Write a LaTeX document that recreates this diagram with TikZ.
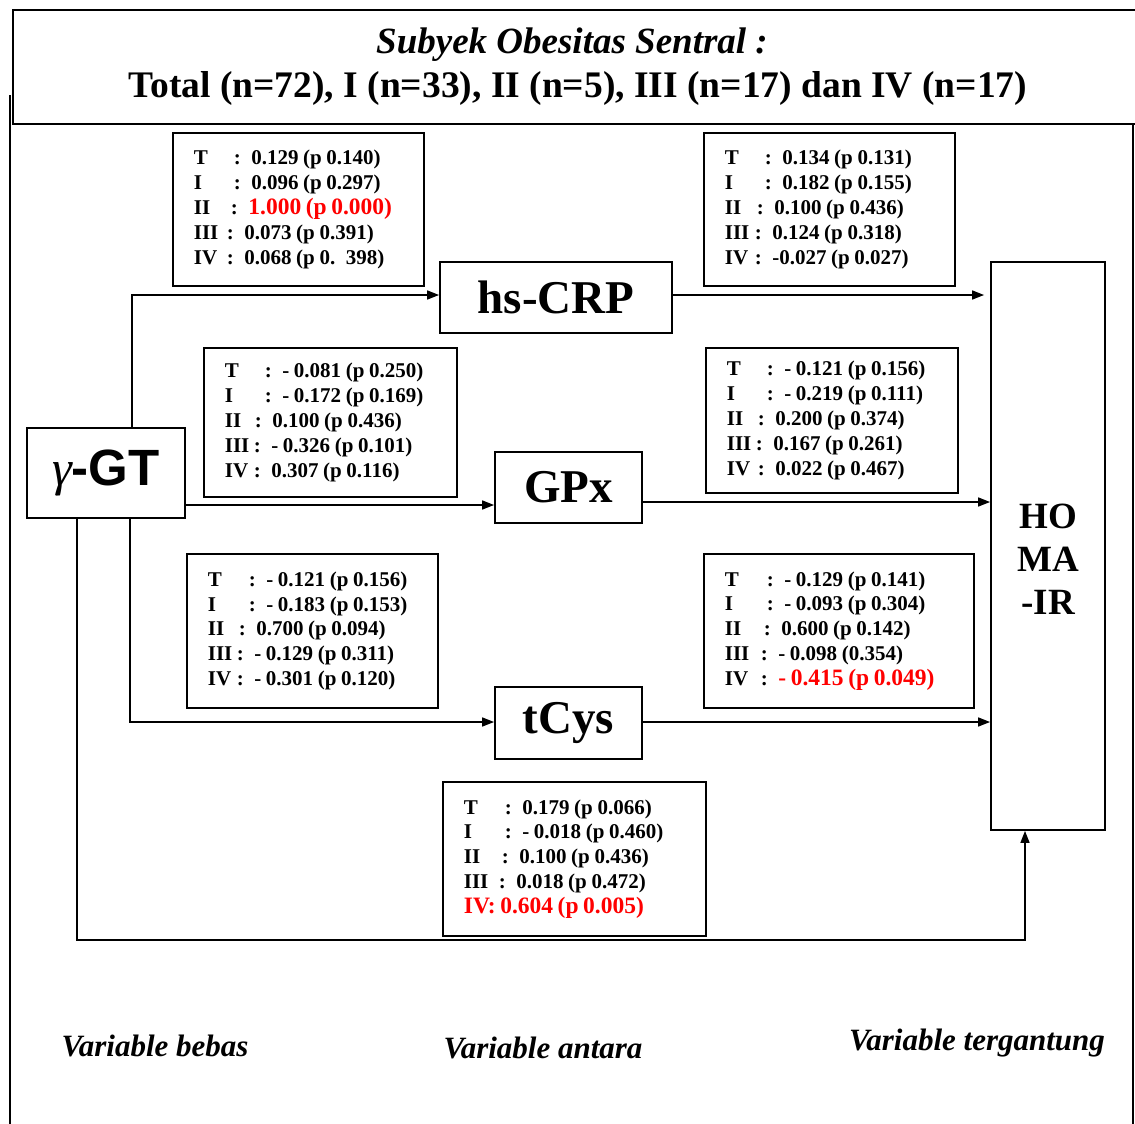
\documentclass[tikz,border=0pt]{standalone}
\usepackage{fontspec}
\setmainfont{Liberation Serif}
\newfontfamily\arialfont{Liberation Sans}
\usetikzlibrary{arrows.meta}
\newcommand{\lr}[3]{\makebox[#1pt][l]{#2}#3}
\begin{document}
\begin{tikzpicture}[x=1pt,y=-1pt,
  tbl/.style={draw, line width=1.8pt, anchor=north west, inner xsep=21pt, inner ysep=0pt, align=left,
    font=\fontsize{21}{24.8}\selectfont\bfseries, execute at begin node={\spaceskip=4.6pt plus 1pt minus 1pt\relax}},
  mainbox/.style={draw, line width=1.8pt, inner sep=0pt, font=\fontsize{47}{50}\selectfont\bfseries},
  arr/.style={line width=1.5pt, -{Triangle[length=12pt,width=9pt]}},
  frame/.style={line width=1.8pt},
  lbl/.style={font=\fontsize{31}{34}\selectfont\bfseries\itshape}]
\useasboundingbox (0,0) rectangle (1135,1124);
% title box and frame
\node[draw, frame, anchor=north west, minimum width=1140pt, minimum height=114pt, inner sep=0pt] (title) at (12,9) {};
\node[font=\fontsize{37}{40}\selectfont\bfseries\itshape] (t1) at (572,45) {Subyek Obesitas Sentral :};
\node[font=\fontsize{37.5}{40}\selectfont\bfseries] (t2) at (578,88) {Total (n=72), I (n=33), II (n=5), III (n=17) dan IV (n=17)};
\draw[frame] (10,95) -- (10,1124);
\draw[frame] (1133,123) -- (1133,1124);
% main nodes
\node[mainbox, minimum width=232pt, minimum height=71pt] (crp) at (556,297.5) {hs-CRP};
\node[mainbox, minimum width=147pt, minimum height=71pt] (gpx) at (568.5,487.5) {GPx};
\node[mainbox, minimum width=147pt, minimum height=72pt] (tcys) at (568.5,723) {tCys};
\node[mainbox, minimum width=158pt, minimum height=90pt] (gt) at (106,473) {{\fontsize{50}{50}\selectfont\mdseries\itshape γ}{\arialfont\fontsize{51}{50}\selectfont\bfseries -GT}};
\node[mainbox, minimum width=114pt, minimum height=568pt] (homa) at (1048,546) {};
\node[font=\fontsize{37}{43}\selectfont\bfseries, align=center] (homat) at (1048,559) {HO\\MA\\-IR};
% tables
\node[tbl, minimum height=153pt, text width=209pt] (b1) at (172,132) {%
\lr{40}{T}{: 0.129 (p 0.140)}\\
\lr{40}{I}{: 0.096 (p 0.297)}\\
\lr{37}{II}{: \textcolor{red}{\fontsize{23.5}{24.8}\selectfont 1.000 (p 0.000)}}\\
\lr{33}{III}{: 0.073 (p 0.391)}\\
\lr{33}{IV}{: 0.068 (p 0. 398)}};
\node[tbl, minimum height=153pt, text width=209pt] (b2) at (703,132) {%
\lr{40}{T}{: 0.134 (p 0.131)}\\
\lr{40}{I}{: 0.182 (p 0.155)}\\
\lr{32}{II}{: 0.100 (p 0.436)}\\
\lr{30}{III}{: 0.124 (p 0.318)}\\
\lr{30}{IV}{: -0.027 (p 0.027)}};
\node[tbl, minimum height=149pt, text width=211pt] (b3) at (203,347) {%
\lr{40}{T}{: - 0.081 (p 0.250)}\\
\lr{40}{I}{: - 0.172 (p 0.169)}\\
\lr{30}{II}{: 0.100 (p 0.436)}\\
\lr{29}{III}{: - 0.326 (p 0.101)}\\
\lr{29}{IV}{: 0.307 (p 0.116)}};
\node[tbl, minimum height=145pt, text width=210pt] (b4) at (705,347) {%
\lr{40}{T}{: - 0.121 (p 0.156)}\\
\lr{40}{I}{: - 0.219 (p 0.111)}\\
\lr{31}{II}{: 0.200 (p 0.374)}\\
\lr{29}{III}{: 0.167 (p 0.261)}\\
\lr{31}{IV}{: 0.022 (p 0.467)}};
\node[tbl, minimum height=154pt, text width=209pt] (b5) at (186,553) {%
\lr{41}{T}{: - 0.121 (p 0.156)}\\
\lr{41}{I}{: - 0.183 (p 0.153)}\\
\lr{31}{II}{: 0.700 (p 0.094)}\\
\lr{29}{III}{: - 0.129 (p 0.311)}\\
\lr{29}{IV}{: - 0.301 (p 0.120)}};
\node[tbl, minimum height=154pt, text width=228pt] (b6) at (703,553) {%
\lr{42}{T}{: - 0.129 (p 0.141)}\\
\lr{42}{I}{: - 0.093 (p 0.304)}\\
\lr{39}{II}{: 0.600 (p 0.142)}\\
\lr{36}{III}{: - 0.098 (0.354)}\\
\lr{36}{IV}{: \textcolor{red}{\fontsize{23.5}{24.8}\selectfont - 0.415 (p 0.049)}}};
\node[tbl, minimum height=154pt, text width=221pt] (b7) at (442,781) {%
\lr{41}{T}{: 0.179 (p 0.066)}\\
\lr{41}{I}{: - 0.018 (p 0.460)}\\
\lr{38}{II}{: 0.100 (p 0.436)}\\
\lr{35}{III}{: 0.018 (p 0.472)}\\
\textcolor{red}{\fontsize{23.5}{24.8}\selectfont IV: 0.604 (p 0.005)}};
% connectors
\coordinate (k1) at (132,295);
\coordinate (k2) at (186,505);
\coordinate (k3) at (643,502);
\coordinate (k4) at (130,722);
\coordinate (k5) at (77,940);
\coordinate (k6) at (1025,940);
\draw[arr] (gt.north -| k1) -- (k1) -- (crp.west |- k1);
\draw[arr] (crp.east |- k1) -- ([xshift=-6pt]homa.west |- k1);
\draw[arr] (gt.east |- k2) -- (gpx.west |- k2);
\draw[arr] (gpx.east |- k3) -- (homa.west |- k3);
\draw[arr] (gt.south -| k4) -- (k4) -- (tcys.west |- k4);
\draw[arr] (tcys.east |- k4) -- (homa.west |- k4);
\draw[arr] (gt.south -| k5) -- (k5) -- (k6) -- (homa.south -| k6);
% bottom labels
\node[lbl] (v1) at (155,1046) {Variable bebas};
\node[lbl] (v2) at (543,1048) {Variable antara};
\node[lbl] (v3) at (977,1043) {Variable tergantung};
\end{tikzpicture}
\end{document}
